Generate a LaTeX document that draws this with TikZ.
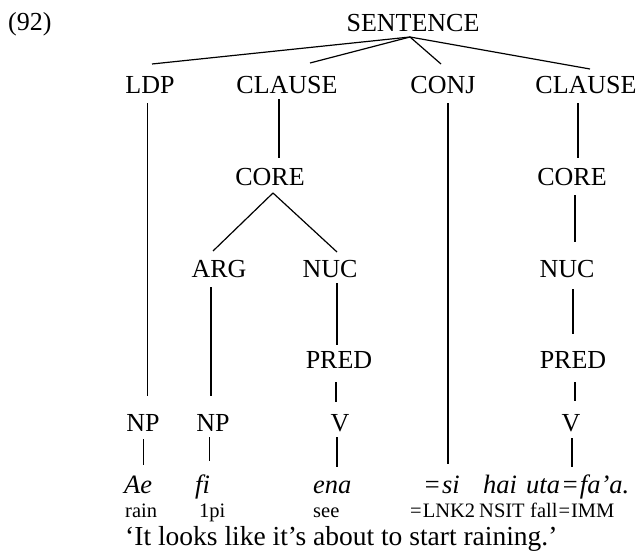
\documentclass[tikz,border=0pt]{standalone}
\usepackage{fontspec}
\setmainfont{Liberation Serif}
\begin{document}
\begin{tikzpicture}[x=1pt,y=-1pt,
  lab/.style={anchor=base,inner sep=0pt,font=\fontsize{26}{30}\selectfont},
  word/.style={anchor=base west,inner sep=0pt,font=\fontsize{26.5}{30}\selectfont\itshape},
  gloss/.style={anchor=base west,inner sep=0pt,font=\fontsize{20.5}{24}\selectfont},
  trans/.style={anchor=base west,inner sep=0pt,font=\fontsize{27.5}{30}\selectfont},
  edge/.style={line width=1.2pt}]
\useasboundingbox (0,0) rectangle (640,551);
% labels
\node[lab,anchor=base west] (ex) at (8,31) {(92)};
\node[lab] (sent) at (413,32) {SENTENCE};
\node[lab] (ldp) at (150,93) {LDP};
\node[lab] (cl1) at (287,93) {CLAUSE};
\node[lab] (conj) at (443,93) {CONJ};
\node[lab] (cl2) at (586,93) {CLAUSE};
\node[lab] (core1) at (270,185) {CORE};
\node[lab] (core2) at (572,185) {CORE};
\node[lab] (arg) at (219,277) {ARG};
\node[lab] (nuc1) at (330,277) {NUC};
\node[lab] (nuc2) at (567,277) {NUC};
\node[lab] (pred1) at (339,368) {PRED};
\node[lab] (pred2) at (573,368) {PRED};
\node[lab] (np1) at (143,431) {NP};
\node[lab] (np2) at (213,431) {NP};
\node[lab] (v1) at (340,431) {V};
\node[lab] (v2) at (571,431) {V};
% words
\node[word] (w1) at (124,493) {Ae};
\node[word] (w2) at (195,493) {fi};
\node[word] (w3) at (313,493) {ena};
\node[word] (w4) at (423,493) {=\kern1pt si};
\node[word] (w5) at (483,493) {hai};
\node[word] (w6) at (526,493) {uta\kern1pt=\kern1pt fa’a.};
% glosses
\node[gloss] (g1) at (125,517.5) {rain};
\node[gloss] (g2) at (199,517.5) {1pi};
\node[gloss] (g3) at (313,517.5) {see};
\node[gloss] (g4) at (410,517.5) {=\kern1pt LNK2};
\node[gloss] (g5) at (479,517.5) {NSIT};
\node[gloss] (g6) at (530,517.5) {fall\kern1pt=\kern1pt IMM};
\node[trans] (tr) at (125,545) {‘It looks like it’s about to start raining.’};
% connector end points
\coordinate (sA) at (410,37);
\coordinate (ldpT) at (152,64);
\coordinate (cl1T) at (310,63);
\coordinate (conjT) at (441,64);
\coordinate (cl2T) at (590,69);
\coordinate (ldpB) at (147.5,103);
\coordinate (npA) at (147.5,396);
\coordinate (cl1B) at (279,99);
\coordinate (core1T) at (279,158);
\coordinate (conjB) at (448,103);
\coordinate (siT) at (448,464);
\coordinate (cl2B) at (578,103);
\coordinate (core2T) at (578,158);
\coordinate (core1B) at (273,193);
\coordinate (argT) at (213,251);
\coordinate (nuc1T) at (337,252);
\coordinate (core2B) at (575,195);
\coordinate (nuc2T) at (575,242);
\coordinate (argB) at (211,287);
\coordinate (np2T) at (211,396);
\coordinate (nuc1B) at (337,283);
\coordinate (pred1T) at (337,345);
\coordinate (nuc2B) at (573,289);
\coordinate (pred2T) at (573,334);
\coordinate (pred1B) at (336,382);
\coordinate (v1T) at (336,402);
\coordinate (pred2B) at (575,382);
\coordinate (v2T) at (575,401);
\coordinate (np1B) at (143.7,439);
\coordinate (w1T) at (143.7,465);
\coordinate (np2B) at (209.3,437);
\coordinate (w2T) at (209.3,461);
\coordinate (v1B) at (337,437);
\coordinate (w3T) at (337,467);
\coordinate (v2B) at (572,438);
\coordinate (w6T) at (572,467);
% connectors
\draw[edge] (sA) -- (ldpT);
\draw[edge] (sA) -- (cl1T);
\draw[edge] (sA) -- (conjT);
\draw[edge] (sA) -- (cl2T);
\draw[edge] (ldpB) -- (npA);
\draw[edge] (cl1B) -- (core1T);
\draw[edge] (conjB) -- (siT);
\draw[edge] (cl2B) -- (core2T);
\draw[edge] (core1B) -- (argT);
\draw[edge] (core1B) -- (nuc1T);
\draw[edge] (core2B) -- (nuc2T);
\draw[edge] (argB) -- (np2T);
\draw[edge] (nuc1B) -- (pred1T);
\draw[edge] (nuc2B) -- (pred2T);
\draw[edge] (pred1B) -- (v1T);
\draw[edge] (pred2B) -- (v2T);
\draw[edge] (np1B) -- (w1T);
\draw[edge] (np2B) -- (w2T);
\draw[edge] (v1B) -- (w3T);
\draw[edge] (v2B) -- (w6T);
\end{tikzpicture}
\end{document}
